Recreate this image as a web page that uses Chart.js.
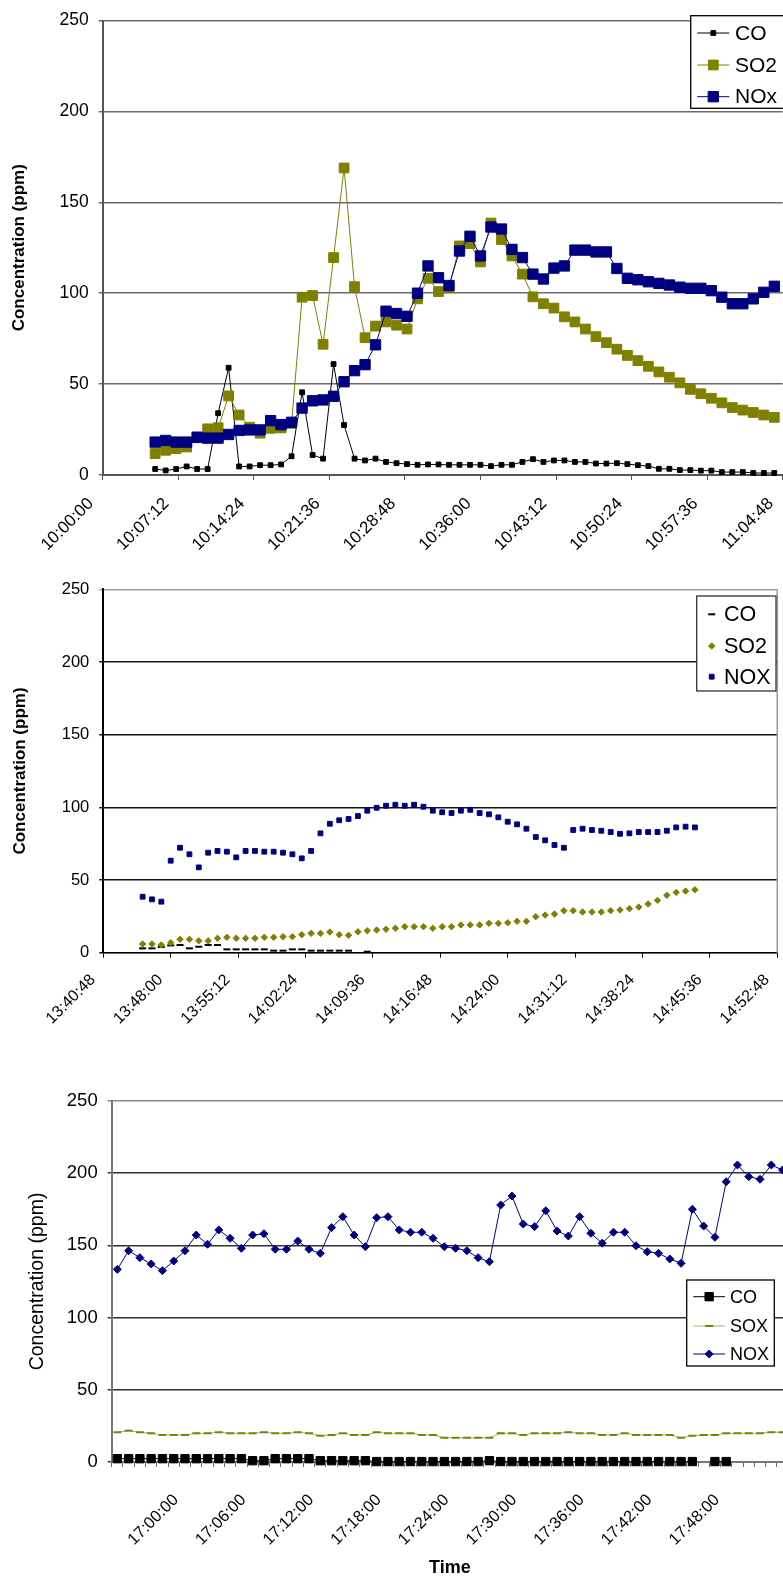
<!DOCTYPE html>
<html>
<head>
<meta charset="utf-8">
<script src="https://cdn.jsdelivr.net/npm/chart.js@4.4.0/dist/chart.umd.min.js"></script>
<style>
html, body { margin: 0; padding: 0; background: #fff; overflow: hidden; width: 783px; height: 1580px; }
canvas { position: absolute; left: 0; }
</style>
</head>
<body>
<canvas id="run1" width="800" height="560" style="top:0px"></canvas>
<canvas id="run2" width="800" height="500" style="top:560px"></canvas>
<canvas id="run3" width="800" height="520" style="top:1060px"></canvas>
<script>
// ---- run 1 : 10:05 - 11:04 ----
var times1 = [
	'10:05:00','10:06:00','10:07:00','10:08:00','10:09:00','10:10:00','10:11:00','10:12:00','10:13:00','10:14:00',
	'10:15:00','10:16:00','10:17:00','10:18:00','10:19:00','10:20:00','10:21:00','10:22:00','10:23:00','10:24:00',
	'10:25:00','10:26:00','10:27:00','10:28:00','10:29:00','10:30:00','10:31:00','10:32:00','10:33:00','10:34:00',
	'10:35:00','10:36:00','10:37:00','10:38:00','10:39:00','10:40:00','10:41:00','10:42:00','10:43:00','10:44:00',
	'10:45:00','10:46:00','10:47:00','10:48:00','10:49:00','10:50:00','10:51:00','10:52:00','10:53:00','10:54:00',
	'10:55:00','10:56:00','10:57:00','10:58:00','10:59:00','11:00:00','11:01:00','11:02:00','11:03:00','11:04:00'
];
var co1 = [3.3, 2.5, 3.3, 4.7, 3.3, 3.3, 34, 59, 4.7, 4.7,
	5.4, 5.4, 5.8, 10.3, 45.5, 11, 9, 61, 27.5, 9,
	8, 9, 7.2, 6.5, 6, 5.6, 5.8, 5.8, 5.6, 5.6,
	5.6, 5.6, 4.9, 5.6, 5.6, 7.2, 8.7, 7.2, 8, 8,
	7.2, 7.2, 6.3, 6.3, 6.5, 6, 5.4, 4.9, 3.4, 3.4,
	2.7, 2.7, 2.4, 2.4, 1.6, 1.6, 1.6, 1.1, 1.1, 1.1];
var so2_1 = [11.8, 13.6, 14.5, 15.4, 20.5, 25.4, 26, 43.5, 33, 26.3,
	23, 25.7, 25.9, 28.4, 97.8, 98.7, 71.9, 119.6, 168.9, 103.6,
	75.5, 81.9, 84.2, 82.4, 80.3, 96.9, 108.2, 100.9, 103, 126,
	127.3, 117.2, 138.6, 129.5, 120.5, 110.5, 98, 94.2, 91.8, 87,
	84.2, 80.3, 76.1, 72.8, 69.2, 65.8, 62.9, 59.8, 56.7, 53.8,
	50.7, 47.1, 44.7, 42.2, 39.7, 37.1, 35.7, 34.4, 33, 31.7];
var nox1 = [18.1, 19, 18.1, 18.1, 20.8, 20.3, 20.3, 22.3, 24.5, 24.8,
	24.8, 29.9, 27.7, 29, 36.8, 40.8, 41.3, 43.3, 51.3, 57.4,
	60.7, 71.6, 90.1, 88.8, 87.3, 100, 115, 108.5, 104.2, 123.2,
	131.3, 120.5, 136.4, 135.3, 124.1, 119.6, 110.5, 107.8, 113.8, 115,
	123.7, 123.7, 122.7, 122.7, 113.6, 108.2, 107.4, 106.3, 105.4, 104.5,
	103.3, 102.7, 102.7, 101.4, 97.8, 94.2, 94.2, 96.9, 100.5, 103.8];
var axisStart1 = '10:00:00', axisEnd1 = '11:04:48';

// ---- run 2 : 13:45 - 14:44 ----
var times2 = [
	'13:45:00','13:46:00','13:47:00','13:48:00','13:49:00','13:50:00','13:51:00','13:52:00','13:53:00','13:54:00',
	'13:55:00','13:56:00','13:57:00','13:58:00','13:59:00','14:00:00','14:01:00','14:02:00','14:03:00','14:04:00',
	'14:05:00','14:06:00','14:07:00','14:08:00','14:09:00','14:10:00','14:11:00','14:12:00','14:13:00','14:14:00',
	'14:15:00','14:16:00','14:17:00','14:18:00','14:19:00','14:20:00','14:21:00','14:22:00','14:23:00','14:24:00',
	'14:25:00','14:26:00','14:27:00','14:28:00','14:29:00','14:30:00','14:31:00','14:32:00','14:33:00','14:34:00',
	'14:35:00','14:36:00','14:37:00','14:38:00','14:39:00','14:40:00','14:41:00','14:42:00','14:43:00','14:44:00'
];
var co2 = [3, 3, 4, 5, 5.3, 3, 4.1, 5.3, 5.3, 2.3,
	2.3, 2.3, 2.3, 2.3, 1.4, 1.4, 2.3, 2.3, 1.4, 1.4,
	1.4, 1.4, 1.4, null, 0.7, null, null, null, null, null,
	null, null, null, null, null, null, null, null, null, null,
	null, null, null, null, null, null, null, null, null, null,
	null, null, null, null, null, null, null, null, null, null];
var so2_2 = [6.0, 6.0, 5.3, 6.9, 9.2, 9.2, 8.2, 8.2, 9.9, 10.6,
	9.9, 9.9, 9.9, 10.6, 10.6, 11.0, 11.0, 12.4, 13.3, 13.3,
	14.2, 12.4, 12.0, 14.4, 15.1, 15.6, 16.1, 16.8, 17.9, 17.9,
	17.9, 16.8, 17.9, 17.9, 19.1, 19.1, 19.1, 20.2, 20.2, 20.6,
	21.6, 21.6, 24.8, 25.9, 26.6, 28.9, 28.9, 28.0, 28.0, 28.0,
	28.9, 29.4, 30.3, 31.4, 33.5, 36.0, 39.5, 41.5, 42.4, 43.3];
var nox2 = [38.5, 36.7, 35.1, 63.3, 72.2, 67.7, 58.7, 68.8, 70.0, 69.5,
	65.6, 70.0, 70.0, 69.5, 69.5, 68.8, 67.7, 64.9, 70.0, 82.1,
	88.7, 91.1, 92, 94, 97.7, 99.7, 101.1, 101.8, 101.1, 101.8,
	100.4, 97.7, 96.6, 96.1, 97.7, 98.3, 96.1, 95.2, 93.1, 90.1,
	88.3, 85.3, 79.6, 77.3, 74.1, 72.2, 84.4, 85.3, 84.4, 83.9,
	83, 81.8, 82.1, 83, 83, 83, 83.9, 86.2, 86.7, 86.2];
var axisStart2 = '13:40:48', axisEnd2 = '14:52:48';

// ---- run 3 : 16:55 - 17:54 (category axis) ----
var times3 = [
	'16:55:00','16:56:00','16:57:00','16:58:00','16:59:00','17:00:00','17:01:00','17:02:00','17:03:00','17:04:00',
	'17:05:00','17:06:00','17:07:00','17:08:00','17:09:00','17:10:00','17:11:00','17:12:00','17:13:00','17:14:00',
	'17:15:00','17:16:00','17:17:00','17:18:00','17:19:00','17:20:00','17:21:00','17:22:00','17:23:00','17:24:00',
	'17:25:00','17:26:00','17:27:00','17:28:00','17:29:00','17:30:00','17:31:00','17:32:00','17:33:00','17:34:00',
	'17:35:00','17:36:00','17:37:00','17:38:00','17:39:00','17:40:00','17:41:00','17:42:00','17:43:00','17:44:00',
	'17:45:00','17:46:00','17:47:00','17:48:00','17:49:00','17:50:00','17:51:00','17:52:00','17:53:00','17:54:00'
];
var co3 = [2.3, 2.3, 2.3, 2.3, 2.3, 2.3, 2.3, 2.3, 2.3, 2.3,
	2.3, 2.3, 0.9, 0.9, 2.3, 2.3, 2.3, 2.3, 0.9, 0.9,
	0.9, 0.9, 0.9, 0.3, 0.3, 0.3, 0.3, 0.3, 0.3, 0.3,
	0.3, 0.3, 0.3, 0.9, 0.3, 0.3, 0.3, 0.3, 0.3, 0.3,
	0.3, 0.3, 0.3, 0.3, 0.3, 0.3, 0.3, 0.3, 0.3, 0.3,
	0.3, 0.3, null, 0.3, 0.3, null, null, null, null, null];
var sox3 = [20.6, 21.7, 20.6, 19.9, 18.7, 18.7, 18.7, 19.9, 19.9, 20.6,
	19.9, 19.9, 19.9, 20.6, 19.9, 19.9, 20.6, 19.9, 18.2, 18.7,
	19.9, 18.7, 18.7, 20.6, 19.9, 19.9, 19.9, 18.7, 18.7, 16.8,
	16.8, 16.8, 16.8, 16.8, 19.9, 19.9, 18.7, 19.9, 19.9, 19.9,
	20.6, 19.9, 19.9, 18.7, 18.7, 19.9, 18.7, 18.7, 18.7, 18.7,
	16.8, 18.2, 18.7, 18.7, 19.9, 19.9, 19.9, 19.9, 20.6, 20.6];
var nox3 = [133.4, 146.3, 141.5, 137.1, 132.5, 139.2, 146.3, 157.2, 150.8, 160.7,
	154.9, 148, 157.2, 158.1, 147.3, 147.3, 153, 147.3, 144.5, 162.3,
	169.9, 157.2, 149.1, 169.2, 169.9, 160.7, 159.1, 159.1, 154.9, 149.1,
	148, 146.3, 141.5, 138.7, 178, 184.2, 164.8, 163, 174, 160,
	156.5, 169.9, 158.4, 151.5, 159.1, 159.1, 149.8, 145.6, 144.5, 140.6,
	137.6, 175, 163.4, 155.6, 194.1, 205.7, 197.6, 195.8, 205.7, 202.2];

var yTicks = { min: 0, max: 250, step: 50 };

var FONT = "'Liberation Sans', Arial, Helvetica, sans-serif";
Chart.defaults.font.family = FONT;
Chart.defaults.color = '#000';
Chart.defaults.animation = false;
Chart.defaults.plugins.legend.display = false;
Chart.defaults.plugins.tooltip.enabled = false;

var OLIVE = '#808000', NAVY = '#000080';

function toSec(t) {
	var p = t.split(':');
	return (+p[0]) * 3600 + (+p[1]) * 60 + (+p[2]);
}
function pad2(n) { return (n < 10 ? '0' : '') + n; }
function fmtSec(s) {
	s = Math.round(s);
	return Math.floor(s / 3600) + ':' + pad2(Math.floor(s / 60) % 60) + ':' + pad2(s % 60);
}
function toPoints(times, vals, base) {
	return times.map(function(t, i) { return { x: toSec(t) - base, y: vals[i] }; });
}

// draw one legend marker by hand (used by the boxed legend)
function legendMarker(ctx, ds, x, y) {
	var r = ds.pointRadius, style = ds.pointStyle;
	ctx.fillStyle = ds.pointBackgroundColor;
	ctx.strokeStyle = ds.pointBorderColor;
	ctx.lineWidth = ds.pointBorderWidth;
	ctx.beginPath();
	if (style === 'rect') {
		var h = r * Math.SQRT1_2;
		ctx.rect(x - h, y - h, 2 * h, 2 * h);
		ctx.fill();
		ctx.stroke();
	} else if (style === 'rectRot') {
		ctx.moveTo(x - r, y); ctx.lineTo(x, y - r); ctx.lineTo(x + r, y); ctx.lineTo(x, y + r);
		ctx.closePath();
		ctx.fill();
		ctx.stroke();
	} else if (style === 'line') {
		ctx.moveTo(x - r, y); ctx.lineTo(x + r, y);
		ctx.stroke();
	}
}

// Excel style boxed legend sitting inside the plot
var boxLegend = {
	id: 'boxLegend',
	afterDraw: function(chart, args, o) {
		var ctx = chart.ctx;
		ctx.save();
		ctx.fillStyle = '#fff';
		ctx.fillRect(o.left, o.top, o.width, o.height);
		ctx.strokeStyle = o.border;
		ctx.lineWidth = 1.3;
		ctx.strokeRect(o.left, o.top, o.width, o.height);
		chart.data.datasets.forEach(function(ds, i) {
			var y = o.rows[i];
			if (ds.showLine !== false) {
				ctx.strokeStyle = ds.borderColor;
				ctx.lineWidth = ds.borderWidth;
				ctx.beginPath();
				ctx.moveTo(o.lineFrom, y);
				ctx.lineTo(o.lineTo, y);
				ctx.stroke();
			}
			legendMarker(ctx, ds, (o.lineFrom + o.lineTo) / 2, y);
			ctx.fillStyle = '#000';
			ctx.font = o.fontSize + 'px ' + FONT;
			ctx.textBaseline = 'middle';
			ctx.textAlign = 'left';
			ctx.fillText(ds.label, o.textX, y + 1);
		});
		ctx.restore();
	}
};

// right hand border of the plot (run 2 only)
var plotFrame = {
	id: 'plotFrame',
	beforeDatasetsDraw: function(chart, args, o) {
		if (!o.color) return;
		var a = chart.chartArea, ctx = chart.ctx;
		ctx.save();
		ctx.strokeStyle = o.color;
		ctx.lineWidth = 1.5;
		ctx.beginPath();
		ctx.moveTo(a.right, a.top);
		ctx.lineTo(a.right, a.bottom);
		ctx.stroke();
		ctx.restore();
	}
};

function yAxis(width, fontSize, gridColor, axisColor, title) {
	return {
		min: yTicks.min, max: yTicks.max,
		ticks: { stepSize: yTicks.step, font: { size: fontSize }, padding: 10, color: '#000' },
		grid: { color: gridColor, lineWidth: 1.5, tickLength: 4 },
		border: { color: axisColor, width: 2 },
		title: title,
		afterFit: function(s) { s.width = width; }
	};
}

// fixed height for the time axis, and no extra side room for the slanted labels
function fixX(height) {
	return function(s) {
		s.height = height;
		s.paddingLeft = 0;
		s.paddingRight = 0;
	};
}

// ---------- run 1 ----------
var base1 = toSec(axisStart1);
new Chart(document.getElementById('run1'), {
	type: 'line',
	data: {
		datasets: [
			{ label: 'CO', data: toPoints(times1, co1, base1), borderColor: '#000', borderWidth: 1,
				pointStyle: 'rect', pointRadius: 3.4, pointBorderWidth: 1, pointBackgroundColor: '#000', pointBorderColor: '#000', order: 3 },
			{ label: 'SO2', data: toPoints(times1, so2_1, base1), borderColor: OLIVE, borderWidth: 1,
				pointStyle: 'rect', pointRadius: 6.9, pointBorderWidth: 1, pointBackgroundColor: OLIVE, pointBorderColor: OLIVE, order: 2 },
			{ label: 'NOx', data: toPoints(times1, nox1, base1), borderColor: NAVY, borderWidth: 1,
				pointStyle: 'rect', pointRadius: 7.3, pointBorderWidth: 1, pointBackgroundColor: NAVY, pointBorderColor: NAVY, order: 1 }
		]
	},
	options: {
		responsive: false,
		layout: { padding: { left: 0, top: 16, right: 17.3, bottom: 0 } },
		elements: { line: { tension: 0 } },
		datasets: { line: { clip: false } },
		scales: {
			x: {
				type: 'linear', min: 0, max: toSec(axisEnd1) - base1,
				ticks: { stepSize: 432, autoSkip: false, minRotation: 45, maxRotation: 45, font: { size: 17 }, padding: 13.8, labelOffset: -11.8,
					callback: function(v) { return fmtSec(base1 + v); } },
				grid: { drawOnChartArea: false, tickLength: 5, color: '#555' },
				border: { color: '#555', width: 2 },
				afterFit: fixX(85)
			},
			y: yAxis(102.7, 17.5, '#6a6a6a', '#555',
				{ display: true, text: 'Concentration (ppm)', font: { size: 17, weight: 'bold' }, padding: { top: 8.8, bottom: 0 } })
		},
		plugins: {
			boxLegend: { left: 690.7, top: 15.7, width: 110, height: 92.6, border: '#000',
				rows: [33, 65, 96.7], lineFrom: 697.3, lineTo: 729.3, textX: 735, fontSize: 21 }
		}
	},
	plugins: [boxLegend, plotFrame]
});

// ---------- run 2 ----------
var base2 = toSec(axisStart2);
new Chart(document.getElementById('run2'), {
	type: 'line',
	data: {
		datasets: [
			{ label: 'CO', data: toPoints(times2, co2, base2), showLine: false, borderColor: '#000',
				pointStyle: 'line', pointRadius: 3.5, pointBorderWidth: 2, pointBackgroundColor: '#000', pointBorderColor: '#000', order: 3 },
			{ label: 'SO2', data: toPoints(times2, so2_2, base2), showLine: false, borderColor: OLIVE,
				pointStyle: 'rectRot', pointRadius: 3.2, pointBorderWidth: 1, pointBackgroundColor: OLIVE, pointBorderColor: OLIVE, order: 2 },
			{ label: 'NOX', data: toPoints(times2, nox2, base2), showLine: false, borderColor: NAVY,
				pointStyle: 'rect', pointRadius: 3.4, pointBorderWidth: 1, pointBackgroundColor: NAVY, pointBorderColor: NAVY, order: 1 }
		]
	},
	options: {
		responsive: false,
		layout: { padding: { left: 0, top: 29.3, right: 22.7, bottom: 0 } },
		datasets: { line: { clip: false } },
		scales: {
			x: {
				type: 'linear', min: 0, max: toSec(axisEnd2) - base2,
				ticks: { stepSize: 432, autoSkip: false, minRotation: 45, maxRotation: 45, font: { size: 16 }, padding: 12.8, labelOffset: -10.3,
					callback: function(v) { return fmtSec(base2 + v); } },
				grid: { drawOnChartArea: false, tickLength: 5, color: '#000' },
				border: { color: '#000', width: 1.3 },
				afterFit: fixX(107.3)
			},
			y: yAxis(103.3, 16.5, function(c) { return c.tick && c.tick.value === 250 ? '#999' : '#111'; }, '#000',
				{ display: true, text: 'Concentration (ppm)', font: { size: 17, weight: 'bold' }, padding: { top: 9.8, bottom: 0 } })
		},
		plugins: {
			plotFrame: { color: '#999' },
			boxLegend: { left: 696.7, top: 36, width: 79.3, height: 95, border: '#333',
				rows: [54.3, 86, 116.7], lineFrom: 711.7, lineTo: 711.7, textX: 724, fontSize: 21.5 }
		}
	},
	plugins: [boxLegend, plotFrame]
});

// ---------- run 3 ----------
new Chart(document.getElementById('run3'), {
	type: 'line',
	data: {
		labels: times3,
		datasets: [
			{ label: 'CO', data: co3, borderColor: '#000', borderWidth: 1,
				pointStyle: 'rect', pointRadius: 5.9, pointBorderWidth: 1, pointBackgroundColor: '#000', pointBorderColor: '#000', order: 3 },
			{ label: 'SOX', data: sox3, borderColor: '#b0b060', borderWidth: 1,
				pointStyle: 'line', pointRadius: 4, pointBorderWidth: 2, pointBackgroundColor: OLIVE, pointBorderColor: OLIVE, order: 2 },
			{ label: 'NOX', data: nox3, borderColor: NAVY, borderWidth: 1,
				pointStyle: 'rectRot', pointRadius: 4, pointBorderWidth: 1, pointBackgroundColor: NAVY, pointBorderColor: NAVY, order: 1 }
		]
	},
	options: {
		responsive: false,
		layout: { padding: { left: 0, top: 41, right: 11.8, bottom: 0 } },
		elements: { line: { tension: 0 } },
		datasets: { line: { clip: false } },
		scales: {
			x: {
				type: 'category', offset: true,
				ticks: { autoSkip: false, minRotation: 45, maxRotation: 45, font: { size: 16.4 }, padding: 23.5, labelOffset: 2.2,
					// every sixth minute is labelled, the last one falls off the page
					callback: function(v, i) { return (i % 6 === 5 && i < 55) ? this.getLabelForValue(v) : ''; } },
				grid: { offset: true, drawOnChartArea: false, tickLength: 5, color: '#666' },
				border: { color: '#777', width: 2 },
				title: { display: true, text: 'Time', font: { size: 18, weight: 'bold' }, padding: { top: 0, bottom: 1.2 } },
				afterFit: fixX(118)
			},
			y: yAxis(111.7, 18.5, function(c) { return c.tick && c.tick.value === 250 ? '#888' : '#333'; }, '#777',
				{ display: true, text: 'Concentration (ppm)', font: { size: 19.5 }, padding: { top: 25.8, bottom: 0 } })
		},
		plugins: {
			boxLegend: { left: 686.7, top: 220, width: 87.6, height: 86, border: '#000',
				rows: [236.7, 266, 294], lineFrom: 693.3, lineTo: 725, textX: 730, fontSize: 18 }
		}
	},
	plugins: [boxLegend, plotFrame]
});
</script>
</body>
</html>
